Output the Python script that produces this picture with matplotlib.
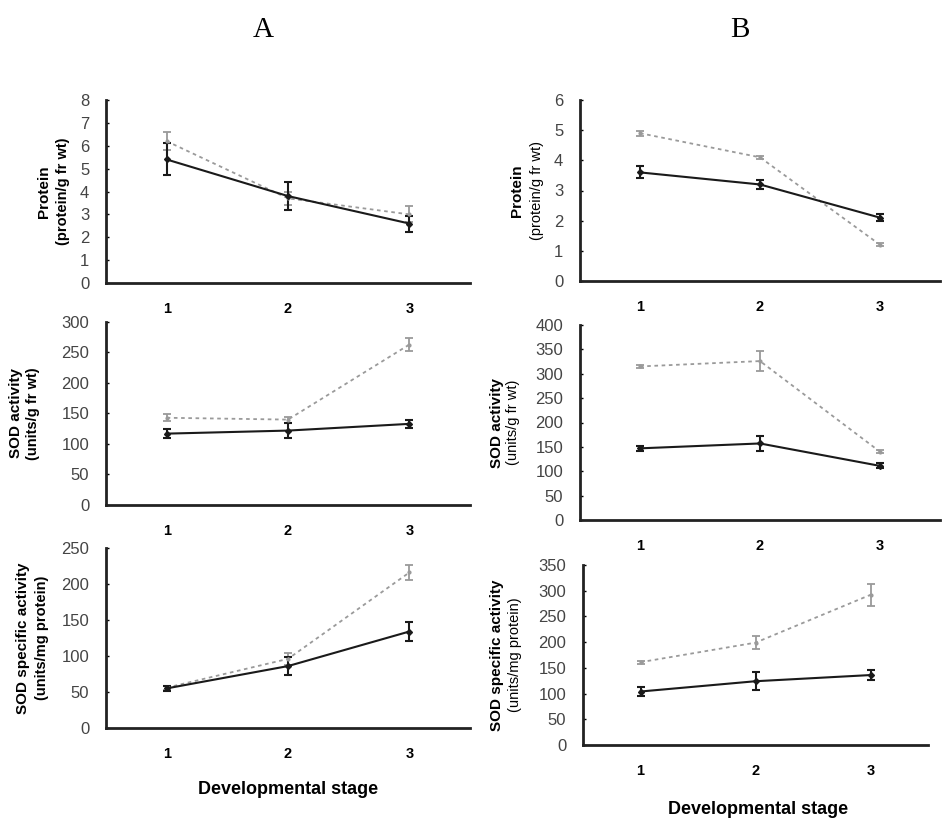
import matplotlib

matplotlib.use("Agg")
import matplotlib.pyplot as plt

plt.rcParams["font.family"] = ["Liberation Sans", "DejaVu Sans"]

W, H = 944, 825
stages = [1, 2, 3]

# column A
a_protein_solid = [5.4, 3.8, 2.6]
a_protein_solid_err = [0.7, 0.6, 0.35]
a_protein_dot = [6.2, 3.7, 3.0]
a_protein_dot_err = [0.4, 0.3, 0.35]

a_sod_solid = [117, 122, 133]
a_sod_solid_err = [7, 12, 7]
a_sod_dot = [143, 140, 263]
a_sod_dot_err = [6, 5, 10]

a_spec_solid = [55, 86, 134]
a_spec_solid_err = [3, 12, 13]
a_spec_dot = [56, 96, 216]
a_spec_dot_err = [3, 8, 11]

# column B
b_protein_solid = [3.6, 3.2, 2.1]
b_protein_solid_err = [0.2, 0.15, 0.12]
b_protein_dot = [4.9, 4.1, 1.2]
b_protein_dot_err = [0.08, 0.06, 0.05]

b_sod_solid = [147, 157, 111]
b_sod_solid_err = [5, 15, 5]
b_sod_dot = [315, 326, 140]
b_sod_dot_err = [3, 20, 3]

b_spec_solid = [104, 124, 136]
b_spec_solid_err = [9, 18, 9]
b_spec_dot = [161, 199, 292]
b_spec_dot_err = [3, 12, 22]

panels = [
    # pixel box (left, top, right, bottom), ymax, step, labels, label x pixels, data, bold 2nd line
    ((106, 100, 470, 283), 8, 1, ("Protein", "(protein/g fr wt)"), (44, 63),
     a_protein_solid, a_protein_solid_err, a_protein_dot, a_protein_dot_err, True),
    ((106, 322, 470, 505), 300, 50, ("SOD activity", "(units/g fr wt)"), (16, 33),
     a_sod_solid, a_sod_solid_err, a_sod_dot, a_sod_dot_err, True),
    ((106, 548, 470, 728), 250, 50, ("SOD specific activity", "(units/mg protein)"), (23, 42),
     a_spec_solid, a_spec_solid_err, a_spec_dot, a_spec_dot_err, True),
    ((580, 100, 940, 281), 6, 1, ("Protein", "(protein/g fr wt)"), (517, 537),
     b_protein_solid, b_protein_solid_err, b_protein_dot, b_protein_dot_err, False),
    ((580, 325, 940, 520), 400, 50, ("SOD activity", "(units/g fr wt)"), (497, 513),
     b_sod_solid, b_sod_solid_err, b_sod_dot, b_sod_dot_err, False),
    ((583, 565, 928, 745), 350, 50, ("SOD specific activity", "(units/mg protein)"), (497, 515),
     b_spec_solid, b_spec_solid_err, b_spec_dot, b_spec_dot_err, False),
]

fig = plt.figure(figsize=(W / 100, H / 100), dpi=100)

for box, ymax, ystep, lines, lx, ys, yse, yd, yde, bold2 in panels:
    left, top, right, bottom = box
    ax = fig.add_axes([left / W, 1 - bottom / H, (right - left) / W, (bottom - top) / H])
    ax.errorbar(stages, yd, yerr=yde, color="#9a9a9a", linestyle=(0, (2, 2)),
                linewidth=1.3, marker=".", markersize=4, capsize=3,
                elinewidth=1.3, capthick=1.3)
    ax.errorbar(stages, ys, yerr=yse, color="#1a1a1a", linestyle="-",
                linewidth=1.5, marker="D", markersize=3, capsize=3,
                elinewidth=1.5, capthick=1.5)
    ax.set_xlim(0.5, 3.5)
    ax.set_ylim(0, ymax)
    ax.set_yticks(range(0, ymax + 1, ystep))
    ax.set_xticks(stages)
    ax.spines["top"].set_visible(False)
    ax.spines["right"].set_visible(False)
    for side in ("left", "bottom"):
        ax.spines[side].set_linewidth(2)
        ax.spines[side].set_color("#222222")
    ax.tick_params(axis="y", length=2, width=1, direction="in", pad=12,
                   labelsize=12, labelcolor="#444444")
    ax.tick_params(axis="x", length=0, pad=14, labelsize=10.5)
    for lab in ax.get_xticklabels():
        lab.set_fontweight("bold")
    ymid = 1 - (top + bottom) / 2 / H
    fig.text(lx[0] / W, ymid, lines[0], rotation=90, ha="center", va="center",
             fontsize=11, fontweight="bold")
    fig.text(lx[1] / W, ymid, lines[1], rotation=90, ha="center", va="center",
             fontsize=10.5, fontweight="bold" if bold2 else "normal")

fig.text(263 / W, 1 - 30 / H, "A", family=["Liberation Serif", "DejaVu Serif"],
         fontsize=21, ha="center", va="center")
fig.text(740 / W, 1 - 30 / H, "B", family=["Liberation Serif", "DejaVu Serif"],
         fontsize=21, ha="center", va="center")
fig.text(288 / W, 1 - 790 / H, "Developmental stage", fontsize=13,
         fontweight="bold", ha="center", va="center")
fig.text(758 / W, 1 - 810 / H, "Developmental stage", fontsize=13,
         fontweight="bold", ha="center", va="center")

fig.savefig("out.png", dpi=100)
